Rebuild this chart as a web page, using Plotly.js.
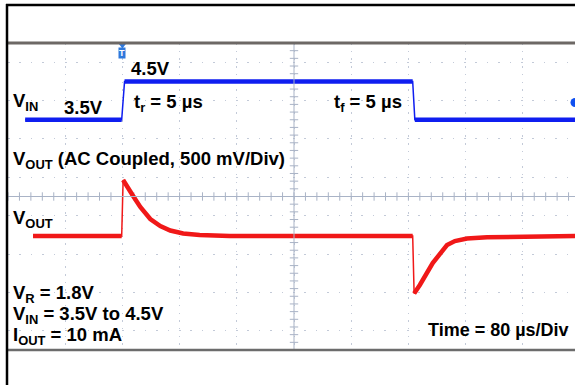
<!DOCTYPE html>
<html><head><meta charset="utf-8">
<script src="https://cdn.plot.ly/plotly-3.0.1.min.js"></script>
<style>html,body{margin:0;padding:0;background:#fff;overflow:hidden}#chart{width:575px;height:385px}</style>
</head><body><div id="chart"></div>
<script>
// ---- data (time in µs, 80 µs/div) ----
const vinTime  = [24, 159, 163, 566, 569, 793];
const vinVolts = [3.5, 3.5, 4.5, 4.5, 3.5, 3.5];
const voutTime = [35, 159, 161, 168, 175, 185, 199, 213, 227, 245, 268, 310, 566, 568, 576, 594, 614, 625, 642, 670, 716, 793];
const voutMilliVolts = [0, 0, 730, 638, 521, 378, 221, 130, 72, 33, 13, 0, 0, -749, -638, -352, -117, -65, -33, -17, -7, 0];
const triggerTime = [160];
const vinRefLevel = [3.95];

// ---- geometry ----
const W = 575, H = 385, L = 8, T = 43, R = 0, B = 35;
const plotW = W - L - R, plotH = H - T - B;
const pxPerDiv = 57.2, usPerDiv = 80;
const xMax = plotW / pxPerDiv * usPerDiv;
const ax = px => (px - L) / plotW;
const ay = py => (H - B - py) / plotH;

const BLUE = '#0f1ef0', RED = '#f01818', CENTER = '#a9b3c6', DOT = '#c3cad8';
const FONT = 'Liberation Sans, Arial, sans-serif';

// thick trace: break at fast edges (edges are drawn by a thin trace)
function breakFast(t, v, thr) {
  const x = [t[0]], y = [v[0]];
  for (let i = 1; i < t.length; i++) {
    if (Math.abs((v[i] - v[i - 1]) / (t[i] - t[i - 1])) > thr) { x.push(null); y.push(null); }
    x.push(t[i]); y.push(v[i]);
  }
  return {x, y};
}
const vinThick = breakFast(vinTime, vinVolts, 0.05);
const voutThick = breakFast(voutTime, voutMilliVolts, 50);

// center-line tick marks
const hTickX = [], hTickY = [];
for (let t = 0; t <= xMax + 0.01; t += usPerDiv / 5) { hTickX.push(t); hTickY.push(1.5); }
const vTickX = [], vTickY = [];
for (let k = 0; k <= 40; k++) { vTickX.push(400); vTickY.push(-2.5 + k * 0.2); }

const traces = [
  {x: hTickX, y: hTickY, mode: 'markers', hoverinfo: 'skip', showlegend: false, cliponaxis: false,
   marker: {symbol: 'line-ns-open', size: 6, color: CENTER, line: {color: CENTER, width: 1}}},
  {x: vTickX, y: vTickY, mode: 'markers', hoverinfo: 'skip', showlegend: false, cliponaxis: false,
   marker: {symbol: 'line-ew-open', size: 6, color: CENTER, line: {color: CENTER, width: 1}}},
  {x: voutTime, y: voutMilliVolts, yaxis: 'y2', mode: 'lines', showlegend: false,
   line: {color: RED, width: 1.5}},
  {x: voutThick.x, y: voutThick.y, yaxis: 'y2', mode: 'lines', showlegend: false, connectgaps: false,
   line: {color: RED, width: 4.5}},
  {x: vinTime, y: vinVolts, mode: 'lines', showlegend: false,
   line: {color: BLUE, width: 1.5}},
  {x: vinThick.x, y: vinThick.y, mode: 'lines', showlegend: false, connectgaps: false,
   line: {color: BLUE, width: 4.5}},
  {x: [xMax], y: vinRefLevel, mode: 'markers', showlegend: false, cliponaxis: true,
   marker: {symbol: 'circle', size: 9, color: '#1050f0'}},
  {x: triggerTime, y: [5.45], mode: 'markers', showlegend: false, cliponaxis: false,
   marker: {symbol: 'triangle-down', size: 7, color: '#2e78dc'}}
];

function ann(html, px, py, anchor, size) {
  return {text: '<b>' + html + '</b>', xref: 'paper', yref: 'paper', x: ax(px), y: ay(py),
    xanchor: anchor || 'left', yanchor: 'middle', showarrow: false,
    font: {family: FONT, size: size || 18.5, color: '#000'}};
}

const annotations = [
  ann('V<sub>IN</sub>', 11, 102),
  ann('3.5V', 62, 107),
  ann('4.5V', 129, 68.5),
  ann('t<sub>r</sub> = 5 µs', 132, 102.5),
  ann('t<sub>f</sub> = 5 µs', 332, 102.5),
  ann('V<sub>OUT</sub> (AC Coupled, 500 mV/Div)', 11, 160),
  ann('V<sub>OUT</sub>', 11, 218.5),
  ann('V<sub>R</sub> = 1.8V', 11, 293.5),
  ann('V<sub>IN</sub> = 3.5V to 4.5V', 11, 314.5),
  ann('I<sub>OUT</sub> = 10 mA', 11, 335.5),
  ann('Time = 80 µs/Div', 571, 330, 'right', 18),
  {text: '<b>T</b>', xref: 'x', yref: 'paper', x: triggerTime[0], y: ay(53), xanchor: 'center', yanchor: 'middle',
   showarrow: false, bgcolor: '#2e78dc', borderpad: 0,
   font: {family: FONT, size: 9, color: '#fff'}}
];

const shapes = [
  {type: 'line', xref: 'x', yref: 'paper', x0: 400, x1: 400, y0: 0, y1: 1, line: {color: CENTER, width: 1}},
  {type: 'line', xref: 'paper', yref: 'y', x0: 0, x1: 1, y0: 1.5, y1: 1.5, line: {color: CENTER, width: 1}},
  {type: 'line', xref: 'paper', yref: 'paper', x0: 0, x1: 1.02, y0: 1, y1: 1, line: {color: '#6d6865', width: 3}, layer: 'above'},
  {type: 'line', xref: 'paper', yref: 'paper', x0: 0, x1: 1.02, y0: 0, y1: 0, line: {color: '#6c6c6c', width: 2.5}, layer: 'above'},
  {type: 'line', xref: 'paper', yref: 'paper', x0: ax(6), x1: 1.02, y0: ay(5), y1: ay(5), line: {color: '#000', width: 2.5}, layer: 'above'},
  {type: 'line', xref: 'paper', yref: 'paper', x0: ax(7), x1: ax(7), y0: ay(4), y1: ay(390), line: {color: '#000', width: 2.5}, layer: 'above'}
];

const layout = {
  width: W, height: H, margin: {l: L, r: R, t: T, b: B, pad: 0},
  paper_bgcolor: '#fff', plot_bgcolor: '#fff', showlegend: false,
  xaxis: {range: [0, xMax], tick0: 0, dtick: usPerDiv, showgrid: true, gridcolor: DOT, gridwidth: 1,
    griddash: '1.5px,6.2px', zeroline: false, showline: false, showticklabels: false, ticks: '', fixedrange: true},
  yaxis: {range: [-2.5, 5.5], tick0: 0, dtick: 1, showgrid: true, gridcolor: DOT, gridwidth: 1,
    griddash: '1.5px,9.9px', zeroline: false, showline: false, showticklabels: false, ticks: '', fixedrange: true},
  yaxis2: {range: [-1485, 2515], overlaying: 'y', visible: false, showgrid: false, zeroline: false, fixedrange: true},
  annotations: annotations, shapes: shapes
};

Plotly.newPlot('chart', traces, layout, {staticPlot: true, displayModeBar: false});
</script></body></html>
